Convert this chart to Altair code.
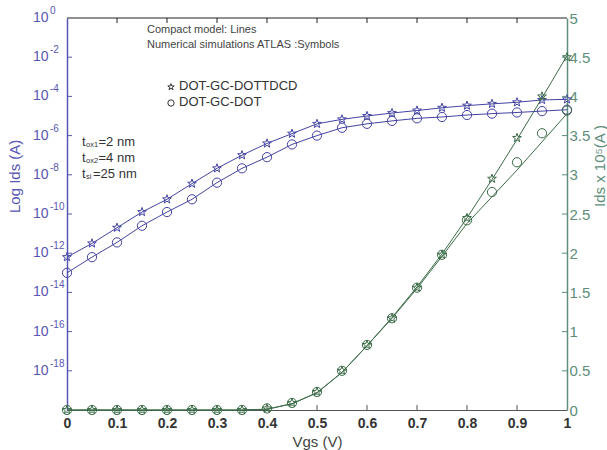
import math
import altair as alt
import pandas as pd

# ---------------- data ----------------
vgs = [0.0, 0.05, 0.1, 0.15, 0.2, 0.25, 0.3, 0.35, 0.4, 0.45, 0.5,
       0.55, 0.6, 0.65, 0.7, 0.75, 0.8, 0.85, 0.9, 0.95, 1.0]
series_names = ["DOT-GC-DOTTDCD", "DOT-GC-DOT"]

# log10(Ids [A]) - left axis
log_ids_dottdcd = [-12.2, -11.5, -10.7, -9.9, -9.25, -8.45, -7.67, -7.0, -6.4, -5.9, -5.4,
                   -5.17, -5.0, -4.85, -4.72, -4.58, -4.47, -4.38, -4.3, -4.18, -4.15]
log_ids_dot = [-13.0, -12.2, -11.45, -10.6, -9.9, -9.25, -8.4, -7.67, -7.1, -6.45, -6.0,
               -5.6, -5.4, -5.25, -5.12, -5.05, -4.95, -4.88, -4.82, -4.75, -4.68]

# Ids x 1e5 [A] - right axis, symbols (ATLAS) and lines (compact model)
lin_sym_dottdcd = [0, 0, 0, 0, 0, 0, 0, 0, 0.02, 0.09, 0.23,
                   0.5, 0.83, 1.17, 1.56, 1.98, 2.45, 2.95, 3.47, 4.0, 4.5]
lin_sym_dot = [0, 0, 0, 0, 0, 0, 0, 0, 0.02, 0.09, 0.23,
               0.5, 0.83, 1.17, 1.56, 1.98, 2.42, 2.78, 3.16, 3.53, 3.82]
lin_model_dottdcd = [0, 0, 0, 0, 0, 0, 0, 0, 0.01, 0.08, 0.22,
                     0.48, 0.82, 1.18, 1.57, 1.99, 2.45, 2.94, 3.45, 3.98, 4.52]
lin_model_dot = [0, 0, 0, 0, 0, 0, 0, 0, 0.01, 0.08, 0.22,
                 0.48, 0.82, 1.17, 1.55, 1.96, 2.38, 2.72, 3.06, 3.42, 3.78]

x_ticks = [0.0, 0.1, 0.2, 0.3, 0.4, 0.5, 0.6, 0.7, 0.8, 0.9, 1.0]
x_inner_ticks = [0.1, 0.2, 0.3, 0.4, 0.5, 0.6, 0.7, 0.8, 0.9]
log_tick_exps = [0, -2, -4, -6, -8, -10, -12, -14, -16, -18]
lin_ticks = [0, 0.5, 1, 1.5, 2, 2.5, 3, 3.5, 4, 4.5, 5]
lin_inner_ticks = [0.5, 1, 1.5, 2, 2.5, 3, 3.5, 4, 4.5]

# ---------------- styles ----------------
BLUE = "#4343a3"
BLUE_AX = "#5757b3"
GREEN = "#3b6c48"
GREEN_AX = "#5e8e7b"
DARK = "#333333"
FONT = "Liberation Sans"
L0, T0 = 67, 18   # plot-area origin inside the page


def star_path(r_in=0.4):
    pts = []
    for k in range(10):
        r = 1.0 if k % 2 == 0 else r_in
        a = math.radians(-90 + 36 * k)
        pts.append(f"{r * math.cos(a):.3f},{r * math.sin(a):.3f}")
    return "M" + "L".join(pts) + "Z"


STAR = star_path()

n = len(vgs)
blue_df = pd.DataFrame({
    "vgs": vgs + vgs,
    "series": [series_names[0]] * n + [series_names[1]] * n,
    "ids": [10 ** e for e in log_ids_dottdcd + log_ids_dot],
})
green_sym_df = pd.DataFrame({
    "vgs": vgs + vgs,
    "series": [series_names[0]] * n + [series_names[1]] * n,
    "ids5": lin_sym_dottdcd + lin_sym_dot,
})
green_model_df = pd.DataFrame({
    "vgs": vgs + vgs,
    "series": [series_names[0]] * n + [series_names[1]] * n,
    "ids5": lin_model_dottdcd + lin_model_dot,
})
left_tick_df = pd.DataFrame({
    "ids": [10.0 ** e for e in log_tick_exps],
    "exp": [str(e) for e in log_tick_exps],
})
left_inner_df = left_tick_df[left_tick_df["exp"] != "0"]
right_inner_df = pd.DataFrame({"ids5": lin_inner_ticks})
x_inner_df = pd.DataFrame({"vgs": x_inner_ticks})
dummy = pd.DataFrame({"d": [0]})

XS = alt.Scale(domain=[0, 1], nice=False, zero=False)
YL = alt.Scale(type="log", domain=[1e-20, 1])
YG = alt.Scale(domain=[0, 5], nice=False, zero=False)
SHAPE = alt.Shape("series:N", scale=alt.Scale(domain=series_names, range=[STAR, "circle"]),
                  legend=None)

x_axis = alt.Axis(values=x_ticks, format=".1~f", labelFlush=False, labelOverlap=False,
                  ticks=False, grid=False, domainColor="#555555", domainWidth=1,
                  labelColor=DARK, labelFontSize=14, labelFontWeight="bold", labelFont=FONT,
                  labelPadding=6, title="Vgs (V)", titleFontSize=15, titleFontWeight="normal",
                  titleColor="#444444", titleFont=FONT, titlePadding=4)
yl_axis = alt.Axis(orient="left", labels=False, ticks=False, grid=False,
                   domainColor=BLUE_AX, domainWidth=1.5, title=None)
yg_axis = alt.Axis(orient="right", values=lin_ticks, format="~g",
                   labelColor=GREEN_AX, domainColor=GREEN_AX, domainWidth=1.5, ticks=False,
                   grid=False, title=None, labelFontSize=15, labelFont=FONT,
                   labelPadding=2, labelOverlap=False)

X = alt.X("vgs:Q", scale=XS, axis=x_axis)
YLOG = alt.Y("ids:Q", scale=YL, axis=yl_axis)
YLIN = alt.Y("ids5:Q", scale=YG, axis=yg_axis)


def txt(s, x, y, size, color=DARK, weight="normal", align="left", angle=0, baseline="middle"):
    return alt.Chart(dummy).mark_text(
        text=s, font=FONT, fontSize=size, fontWeight=weight, color=color,
        align=align, baseline=baseline, angle=angle
    ).encode(x=alt.value(x - L0), y=alt.value(y - T0))


# ---------------- blue (log) group ----------------
blue_lines = alt.Chart(blue_df).mark_line(color=BLUE, strokeWidth=1).encode(
    x=X, y=YLOG, detail="series:N")
blue_pts = alt.Chart(blue_df).mark_point(color=BLUE, filled=False, strokeWidth=1, size=85,
                                         opacity=1).encode(x=X, y=YLOG, shape=SHAPE)
left_ticks = alt.Chart(left_inner_df).mark_rule(color=BLUE_AX, strokeWidth=1).encode(
    y=YLOG, x=alt.value(0), x2=alt.value(5))
left_lab10 = alt.Chart(left_tick_df).mark_text(
    font=FONT, fontSize=14, color=BLUE_AX, align="left", baseline="middle").encode(
    y=YLOG, x=alt.value(33 - L0), text=alt.value("10"))
left_labexp = alt.Chart(left_tick_df).mark_text(
    font=FONT, fontSize=10, color=BLUE_AX, align="left", baseline="middle", dy=-7).encode(
    y=YLOG, x=alt.value(50 - L0), text="exp:N")
top_ticks = alt.Chart(x_inner_df).mark_rule(color="#222222", strokeWidth=1).encode(
    x=X, y=alt.value(0), y2=alt.value(5))
bot_ticks = alt.Chart(x_inner_df).mark_rule(color="#555555", strokeWidth=1).encode(
    x=X, y=alt.value(387), y2=alt.value(392))
top_border = alt.Chart(dummy).mark_rule(color="#222222", strokeWidth=1.2).encode(
    x=alt.value(0), x2=alt.value(500), y=alt.value(0))

legend_star = alt.Chart(dummy).mark_point(shape=STAR, size=45, color=DARK, filled=False,
                                          strokeWidth=1, opacity=1).encode(
    x=alt.value(171 - L0), y=alt.value(87 - T0))
legend_circ = alt.Chart(dummy).mark_point(shape="circle", size=40, color=DARK, filled=False,
                                          strokeWidth=1, opacity=1).encode(
    x=alt.value(171 - L0), y=alt.value(103 - T0))

annotations = [
    txt("Compact model: Lines", 147, 30, 11, "#444444"),
    txt("Numerical simulations ATLAS :Symbols", 147, 45, 11, "#444444"),
    txt("DOT-GC-DOTTDCD", 179, 86, 13),
    txt("DOT-GC-DOT", 179, 102, 13),
    txt("t", 82, 142, 13), txt("ox1", 86, 145, 7.5), txt("=2 nm", 98.5, 142, 13),
    txt("t", 82, 158, 13), txt("ox2", 86, 161, 7.5), txt("=4 nm", 98.5, 158, 13),
    txt("t", 82, 174, 13), txt("si", 86, 177, 7.5), txt("=25 nm", 93, 174, 13),
    txt("Log Ids (A)", 15, 213, 15, BLUE_AX, angle=270),
    txt("Ids x 10⁵(A )", 600, 207, 15, GREEN_AX, angle=270),
]

blue_group = alt.layer(blue_lines, blue_pts, left_ticks, left_lab10, left_labexp,
                       top_ticks, bot_ticks, top_border, legend_star, legend_circ,
                       *annotations)

# ---------------- green (linear) group ----------------
green_lines = alt.Chart(green_model_df).mark_line(color=GREEN, strokeWidth=1).encode(
    x=X, y=YLIN, detail="series:N")
green_pts = alt.Chart(green_sym_df).mark_point(color=GREEN, filled=False, strokeWidth=1,
                                               size=85, opacity=1).encode(
    x=X, y=YLIN, shape=SHAPE)
right_ticks = alt.Chart(right_inner_df).mark_rule(color=GREEN_AX, strokeWidth=1).encode(
    y=YLIN, x=alt.value(495), x2=alt.value(500))

green_group = alt.layer(green_lines, green_pts, right_ticks)

chart = alt.layer(blue_group, green_group).resolve_scale(y="independent").properties(
    width=500, height=392,
    autosize=alt.AutoSizeParams(type="none"),
    padding={"left": L0, "top": T0, "right": 40, "bottom": 40},
    background="white",
).configure_view(stroke=None)

chart.save("out.html", embed_options={"renderer": "svg", "actions": False})
